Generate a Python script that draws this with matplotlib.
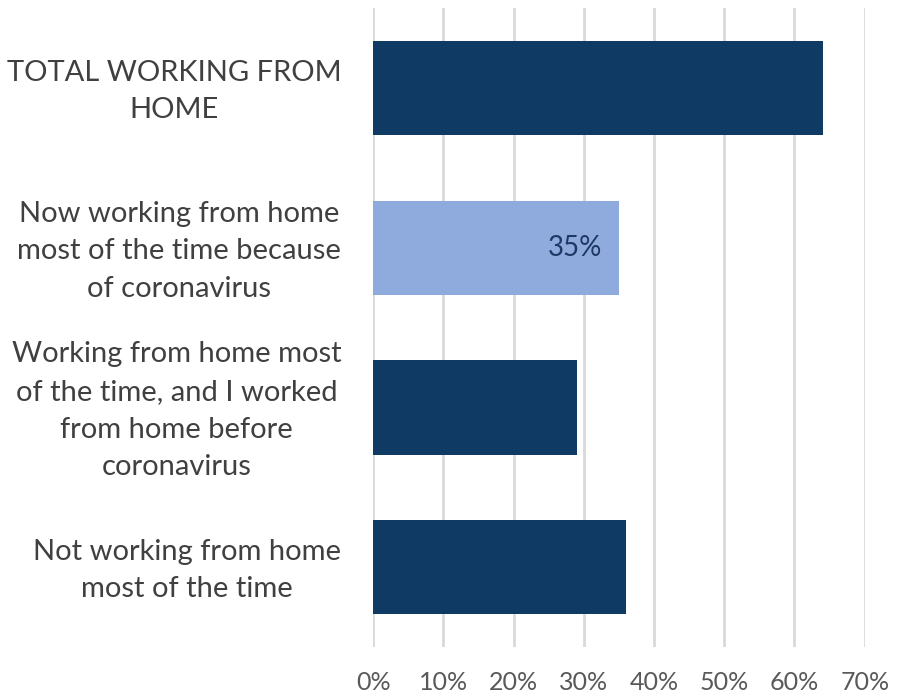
import matplotlib.pyplot as plt
import matplotlib.transforms as mtransforms
from matplotlib.ticker import PercentFormatter

plt.rcParams['font.family'] = ['Lato', 'DejaVu Sans']

categories = [
    'TOTAL WORKING FROM\nHOME',
    'Now working from home\nmost of the time because\nof coronavirus',
    'Working from home most\nof the time, and I worked\nfrom home before\ncoronavirus',
    'Not working from home\nmost of the time',
]
values = [64, 35, 29, 36]
colors = ['#0F3A63', '#8FAADC', '#0F3A63', '#0F3A63']
xticks = [0, 10, 20, 30, 40, 50, 60, 70]

fig = plt.figure(figsize=(8.97, 6.92), dpi=100)
ax = fig.add_axes([0.416, 0.065, 0.548, 0.923])

pos = list(range(len(categories)))
bars = ax.barh(pos, values, height=0.59, color=colors, zorder=3)
ax.set_ylim(3.5, -0.5)
ax.set_xlim(0, 70)

# only the highlighted bar carries a label
labels = ['', '%d%%' % values[1], '', '']
ax.bar_label(bars, labels=labels, label_type='edge',
             padding=-51, fontsize=20, color='#1F3864')

ax.set_xticks(xticks)
ax.xaxis.set_major_formatter(PercentFormatter(decimals=0))
ax.set_yticks(pos)
ax.set_yticklabels(categories, multialignment='center', fontsize=21,
                   color='#404040', linespacing=1.55)
ax.tick_params(axis='y', length=0, pad=23)
ax.tick_params(axis='x', length=0, pad=17, labelsize=18, labelcolor='#595959')

# nudge category labels up a little
shift = mtransforms.ScaledTranslation(0, 5 / 100, fig.dpi_scale_trans)
for t in ax.get_yticklabels():
    t.set_transform(t.get_transform() + shift)

ax.grid(axis='x', color='#D9D9D9', linewidth=2, zorder=0)
for s in ax.spines.values():
    s.set_visible(False)

fig.savefig('out.png', dpi=100)
